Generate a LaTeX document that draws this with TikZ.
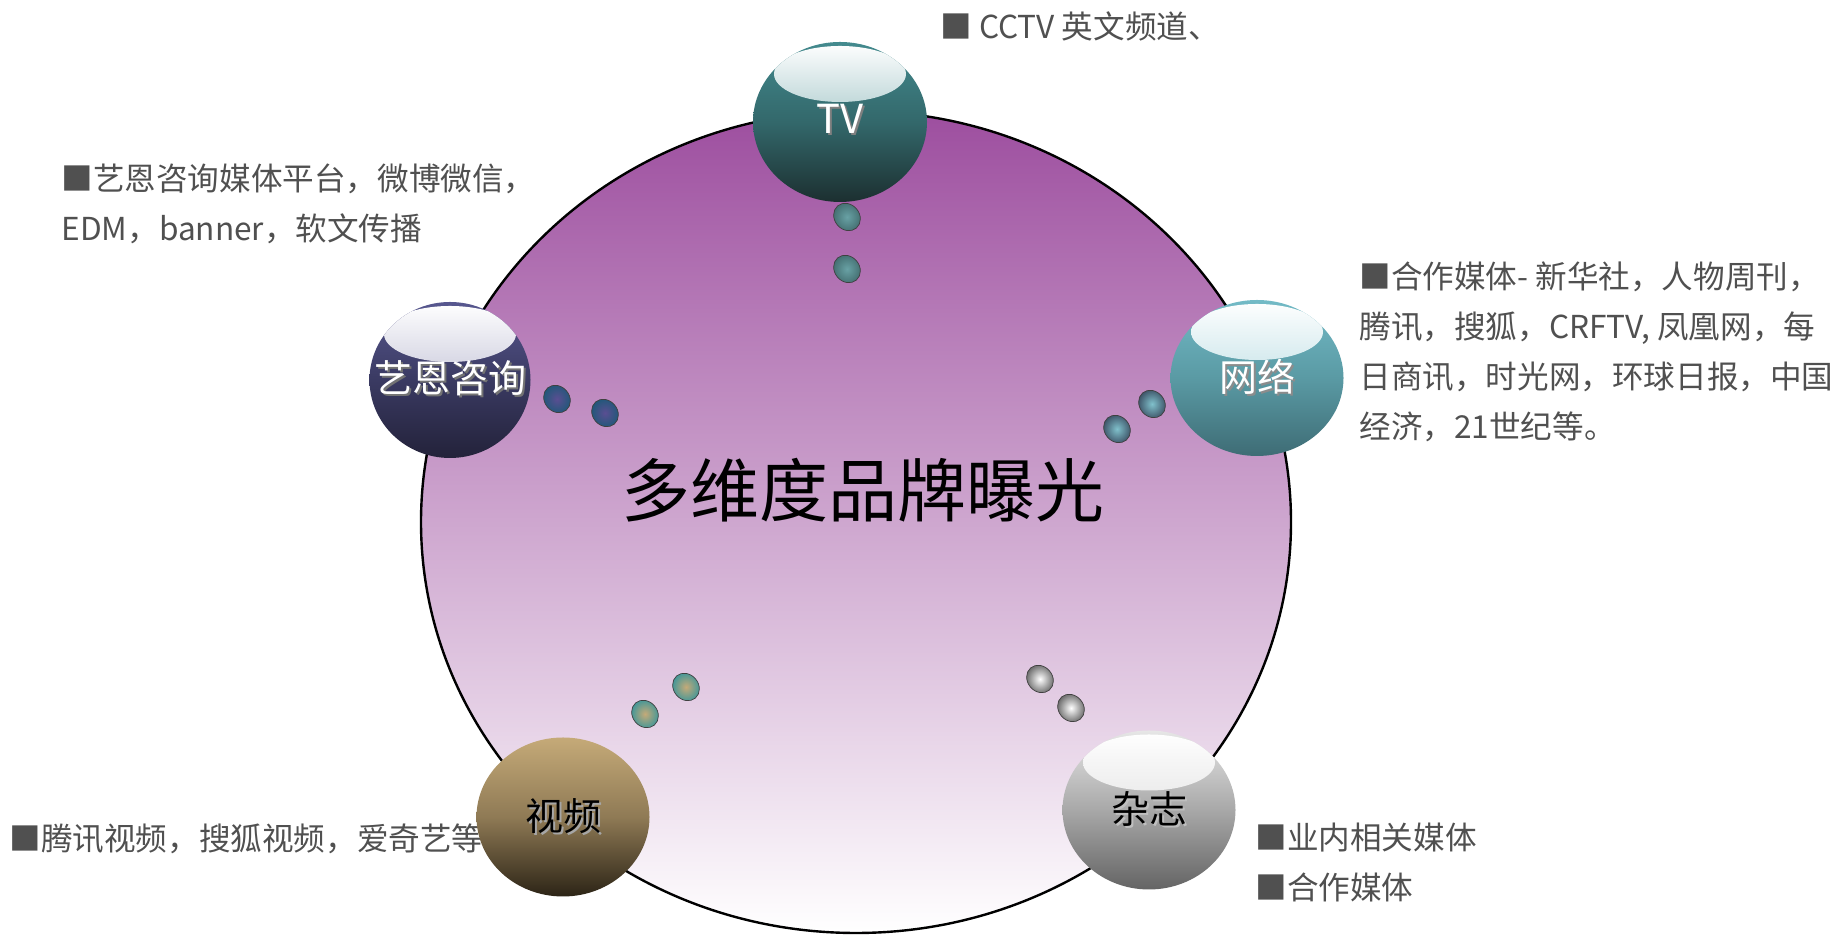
\documentclass[tikz,border=0pt]{standalone}
\usepackage{fontspec}
\setmainfont{Noto Sans CJK SC}
\usetikzlibrary{shapes.geometric}
\definecolor{hubtop}{HTML}{9D4E9F}
\definecolor{infogray}{HTML}{505050}
\definecolor{tvtop}{HTML}{438A8E}
\definecolor{tvmid}{HTML}{33686B}
\definecolor{tvbot}{HTML}{1C2F30}
\definecolor{yentop}{HTML}{57578F}
\definecolor{yenmid}{HTML}{3A3A62}
\definecolor{yenbot}{HTML}{23223A}
\definecolor{nettop}{HTML}{72BAC6}
\definecolor{netmid}{HTML}{5A9AA4}
\definecolor{netbot}{HTML}{3E6C75}
\definecolor{vidtop}{HTML}{C5AA78}
\definecolor{vidmid}{HTML}{8F7A55}
\definecolor{vidbot}{HTML}{2C2416}
\definecolor{magtop}{HTML}{E6E6E6}
\definecolor{magmid}{HTML}{A8A8A8}
\definecolor{magbot}{HTML}{646464}
\definecolor{yendot}{HTML}{5A4E92}
\definecolor{yenrim}{HTML}{1E5878}
\newcommand{\glowtxt}[2]{\makebox[0pt]{\makebox[0pt][l]{\kern1pt\raisebox{-1pt}{\textcolor{#1}{#2}}}#2}}

\begin{document}
\begin{tikzpicture}[x=0.5pt, y=0.5pt,
    ball/.style={ellipse, inner sep=0pt, minimum width=86.5pt, minimum height=79.5pt,
        font=\fontsize{19}{19}\selectfont},
    gloss/.style={path picture={
        \shade[top color=white, bottom color=#1]
            ([yshift=-16pt]path picture bounding box.north) ellipse (33pt and 14pt);}},
    bubble/.style={ellipse, inner sep=0pt, minimum width=14.5pt, minimum height=12.5pt,
        rotate=-50, draw=black!75, line width=0.35pt},
    info/.style={anchor=west, align=left, inner sep=0pt, text=infogray,
        font=\fontsize{15.8}{25}\selectfont}]
    \useasboundingbox (0,0) rectangle (1842,940);

    % Hub
    \node[ellipse, draw=black, line width=1.2pt, minimum width=435pt, minimum height=411pt,
        top color=hubtop, bottom color=white] (hub) at (856,418) {};
    \node[font=\fontsize{34.5}{34.5}\selectfont] (title) at (863,450) {多维度品牌曝光};

    % Channel notes
    \node[info] (tvnote) at (940,914) {■ CCTV 英文频道、};
    \node[info] (yennote) at (61,736) {■艺恩咨询媒体平台，微博微信，\\EDM，banner，软文传播};
    \node[info] (netnote) at (1359,588) {■合作媒体- 新华社，人物周刊，\\腾讯，搜狐，CRFTV, 凤凰网，每\\日商讯，时光网，环球日报，中国\\经济，21世纪等。};
    \node[info] (vidnote) at (9,101) {■腾讯视频，搜狐视频，爱奇艺等。};
    \node[info] (magnote) at (1255,77) {■业内相关媒体\\■合作媒体};

    % Bubbles
    \node[bubble, inner color=tvtop!80!white, outer color=tvmid!80!gray] (tvb1) at (847,723) {};
    \node[bubble, inner color=tvtop!80!white, outer color=tvmid!80!gray] (tvb2) at (847,671) {};
    \node[bubble, inner color=yendot, outer color=yenrim] (yenb1) at (557,541) {};
    \node[bubble, inner color=yendot, outer color=yenrim] (yenb2) at (605,527) {};
    \node[bubble, inner color=nettop!90!white, outer color=yenbot!70!nettop] (netb1) at (1152,536) {};
    \node[bubble, inner color=nettop!90!white, outer color=yenbot!70!nettop] (netb2) at (1117,511) {};
    \node[bubble, inner color=vidtop, outer color=tvtop!90!cyan] (vidb1) at (686,253) {};
    \node[bubble, inner color=vidtop, outer color=tvtop!90!cyan] (vidb2) at (645,226) {};
    \node[bubble, inner color=white, outer color=magbot] (magb1) at (1040,261) {};
    \node[bubble, inner color=white, outer color=magbot] (magb2) at (1071,232) {};

    % Channels
    \node[ball, gloss=tvtop!85!white, top color=tvtop, bottom color=tvbot, middle color=tvmid,
        minimum width=87pt, minimum height=80pt, text=white,
        font=\fontsize{20}{20}\selectfont] (tv) at (840,818) {\raisebox{3pt}{\glowtxt{black!50}{TV}}};
    \node[ball, gloss=yentop!60!white, top color=yentop, bottom color=yenbot, middle color=yenmid,
        minimum width=80.5pt, minimum height=78pt, text=white] (yen) at (450,560) {\raisebox{3pt}{\glowtxt{black!55}{艺恩咨询}}};
    \node[ball, gloss=nettop!75!white, top color=nettop, bottom color=netbot, middle color=netmid,
        minimum height=78pt, text=white] (net) at (1257,562) {\glowtxt{black!45}{网络}};
    \node[ball, top color=vidtop, bottom color=vidbot, middle color=vidmid] (vid) at (563,123) {\glowtxt{black!35}{视频}};
    \node[ball, gloss=magtop!90!black, top color=magtop, bottom color=magbot, middle color=magmid] (mag) at (1149,130) {\glowtxt{black!25}{杂志}};
\end{tikzpicture}
\end{document}
